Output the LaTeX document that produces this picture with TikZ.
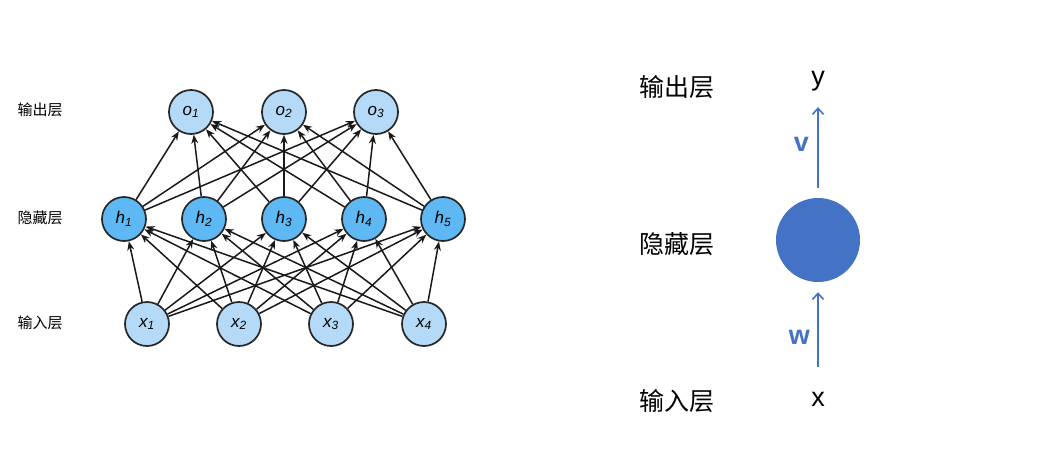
\documentclass[tikz,border=0pt]{standalone}
\usepackage{fontspec}
\setmainfont{Liberation Sans}
\newfontfamily\cjk{Noto Sans CJK SC}
\usetikzlibrary{arrows.meta}
\definecolor{lightunit}{HTML}{B5DAF7}
\definecolor{hidunit}{HTML}{5EB8F4}
\definecolor{officeblue}{HTML}{4472C4}

\begin{document}
\begin{tikzpicture}[x=1pt, y=-1pt,
  >={Stealth[length=9pt,width=7pt]},
  unit/.style={circle, draw=black!85, line width=1.7pt, minimum size=44pt,
    inner sep=0pt, font=\fontsize{17}{17}\selectfont\itshape},
  inunit/.style={unit, fill=lightunit},
  hidunit/.style={unit, fill=hidunit},
  wire/.style={->, line width=1.5pt, black!90},
  layername/.style={font=\cjk\fontsize{15}{15}\selectfont, anchor=west},
  biglayername/.style={font=\cjk\fontsize{25}{25}\selectfont, anchor=west},
  bigletter/.style={font=\fontsize{27}{27}\selectfont, inner sep=0pt},
  weight/.style={font=\bfseries\fontsize{27}{27}\selectfont, text=officeblue},
  bluewire/.style={-{Straight Barb[length=6pt,width=11pt]}, line width=1.6pt, officeblue}]
\useasboundingbox (0,0) rectangle (1055,458);
% ---- left: fully connected MLP ----
\node[layername] at (14,110) {输出层};
\node[layername] at (14,218) {隐藏层};
\node[layername] at (14,323) {输入层};
% output units
\foreach \i/\x in {1/191, 2/284, 3/376}
  \node[inunit] (o\i) at (\x,112) {o\textsubscript{\i}};
% hidden units
\foreach \i/\x in {1/124, 2/204, 3/284, 4/364, 5/443}
  \node[hidunit] (h\i) at (\x,219) {h\textsubscript{\i}};
% input units
\foreach \i/\x in {1/147, 2/239, 3/331, 4/424}
  \node[inunit] (x\i) at (\x,324) {x\textsubscript{\i}};
% all weights: input -> hidden -> output
\foreach \i in {1,...,4}
  \foreach \j in {1,...,5}
    \draw[wire] (x\i) -- (h\j);
\foreach \j in {1,...,5}
  \foreach \k in {1,...,3}
    \draw[wire] (h\j) -- (o\k);
% ---- right: collapsed view ----
\node[biglayername] at (636,87) {输出层};
\node[biglayername] at (636,244) {隐藏层};
\node[biglayername] at (636,401) {输入层};
\node[circle, fill=officeblue, minimum size=84pt, inner sep=0pt] (hid) at (818,240) {};
\node[bigletter] (yout) at (818,81) {y};
\node[bigletter] (xin) at (818,399) {x};
\draw[bluewire, shorten <=10pt, shorten >=16pt] (hid) -- (yout)
  node[midway, weight, left=5pt] {v};
\draw[bluewire, shorten <=25pt, shorten >=10pt] (xin) -- (hid)
  node[midway, weight, left=4pt] {w};
\end{tikzpicture}
\end{document}
